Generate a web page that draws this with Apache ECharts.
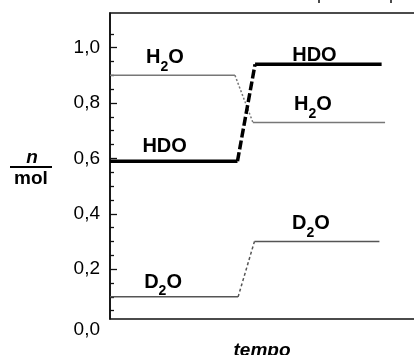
<!DOCTYPE html>
<html>
<head>
<meta charset="UTF-8">
<title></title>
<style>
	html, body { margin: 0; padding: 0; background: #fff; }
	#chart { width: 414px; height: 355px; }
</style>
<script src="https://cdn.jsdelivr.net/npm/echarts@6/dist/echarts.min.js"></script>
</head>
<body>
<div id="chart"></div>
<script>
var FONT = '"Liberation Sans", Arial, sans-serif';

// tempo (arbitrary units) and n/mol for each species: flat, change, flat
var tH2O = [0, 39.8, 45.5, 87.6];
var nH2O = [0.90, 0.90, 0.73, 0.73];
var tHDO = [0, 40.6, 46.2, 86.5];
var nHDO = [0.59, 0.59, 0.94, 0.94];
var tD2O = [0, 40.8, 46.0, 85.8];
var nD2O = [0.10, 0.10, 0.30, 0.30];

// axis ticks
var yMajor = [0.2, 0.4, 0.6, 0.8, 1.0];
var yMinor = [0.05, 0.1, 0.15, 0.25, 0.3, 0.35, 0.45, 0.5, 0.55, 0.65, 0.7, 0.75, 0.85, 0.9, 0.95, 1.05];
var topTicks = [66.6, 89.5];

// species labels (rich text) and where they sit (tempo, n)
var lblText = ['{b|H}{s|2}{b|O}', '{b|HDO}', '{b|HDO}', '{b|H}{s|2}{b|O}', '{b|D}{s|2}{b|O}', '{b|D}{s|2}{b|O}'];
var lblT = [17.5, 65.1, 17.4, 64.6, 64.0, 16.9];
var lblN = [0.963, 0.973, 0.642, 0.793, 0.364, 0.153];

var myChart = echarts.init(document.getElementById('chart'));

function fmt(v) {
	return v.toFixed(1).replace('.', ',');
}

function pts(t, n, a, b) {
	var r = [];
	for (var i = a; i <= b; i++) r.push([t[i], n[i]]);
	return r;
}

// one species -> three line pieces (solid, dashed change, solid)
function pieces(t, n, color, width, dash) {
	var base = {
		type: 'line', showSymbol: false, silent: true, animation: false,
		lineStyle: { color: color, width: width, type: 'solid', cap: 'butt' }
	};
	return [
		Object.assign({}, base, { data: pts(t, n, 0, 1) }),
		Object.assign({}, base, { data: pts(t, n, 1, 2),
			lineStyle: { color: color, width: width, type: dash, cap: 'butt' } }),
		Object.assign({}, base, { data: pts(t, n, 2, 3) })
	];
}

var series = [].concat(
	pieces(tH2O, nH2O, '#777', 1.5, [2, 2]),
	pieces(tD2O, nD2O, '#555', 1.5, [3, 2.5]),
	pieces(tHDO, nHDO, '#000', 3.5, [9, 3])
);

var option = {
	animation: false,
	grid: {
		left: 110, width: 314, top: 13, bottom: 36,
		outerBoundsMode: 'none', containLabel: false,
		show: true, borderColor: '#111', borderWidth: 1.6
	},
	xAxis: [{
		type: 'value', min: 0, max: 100,
		axisLine: { show: false }, axisTick: { show: false },
		axisLabel: { show: false }, splitLine: { show: false },
		name: 'tempo', nameLocation: 'middle', nameGap: 22,
		nameTextStyle: {
			fontFamily: FONT, fontSize: 19, fontWeight: 'bold', fontStyle: 'italic',
			color: '#000', padding: [0, 10, 0, 0]
		}
	}, {
		// stray tick stubs at the very top edge of the original image
		type: 'value', min: 0, max: 100, position: 'top', offset: 10,
		axisLine: { show: false },
		axisTick: { show: true, length: 4, customValues: topTicks,
			lineStyle: { color: '#111', width: 1.5 } },
		axisLabel: { show: false }, splitLine: { show: false }
	}],
	yAxis: [{
		type: 'value', min: 0.02, max: 1.125,
		axisLine: { show: true, lineStyle: { color: '#111', width: 1.6 } },
		axisTick: { show: true, inside: true, length: 7, customValues: yMajor,
			lineStyle: { color: '#111', width: 1.3 } },
		axisLabel: { customValues: yMajor, formatter: fmt, margin: 10,
			fontFamily: FONT, fontSize: 19, color: '#000' },
		splitLine: { show: false }
	}, {
		type: 'value', min: 0.02, max: 1.125, position: 'left',
		axisLine: { show: false },
		axisTick: { show: true, inside: true, length: 4, customValues: yMinor,
			lineStyle: { color: '#111', width: 1.3 } },
		axisLabel: { show: false },
		splitLine: { show: false }
	}],
	series: series
};

myChart.setOption(option);

// labels placed from data coordinates
var rich = {
	b: { fontFamily: FONT, fontSize: 20, fontWeight: 'bold', fill: '#000', lineHeight: 20, verticalAlign: 'top' },
	s: { fontFamily: FONT, fontSize: 14, fontWeight: 'bold', fill: '#000', lineHeight: 14, verticalAlign: 'top', padding: [12, 0, 0, 0] }
};
var graphic = [];
lblText.forEach(function (txt, i) {
	var p = myChart.convertToPixel({ gridIndex: 0 }, [lblT[i], lblN[i]]);
	graphic.push({
		type: 'text', x: p[0], y: p[1] - 10, silent: true,
		style: { text: txt, rich: rich, align: 'center', verticalAlign: 'top' }
	});
});

// "0,0" sits just below the bottom line in the original
var y0 = myChart.convertToPixel({ yAxisIndex: 0 }, 0);
graphic.push({
	type: 'text', x: 100, y: y0 + 5, silent: true,
	style: { text: fmt(0), font: '19px ' + FONT, fill: '#000', align: 'right', verticalAlign: 'middle' }
});

// axis quantity written as a fraction n / mol
graphic.push(
	{ type: 'text', x: 32, y: 158, silent: true,
		style: { text: 'n', font: 'italic bold 19px ' + FONT, fill: '#000', align: 'center', verticalAlign: 'middle' } },
	{ type: 'line', silent: true, shape: { x1: 10, y1: 167, x2: 52, y2: 167 },
		style: { stroke: '#000', lineWidth: 2 } },
	{ type: 'text', x: 31, y: 179, silent: true,
		style: { text: 'mol', font: 'bold 19px ' + FONT, fill: '#000', align: 'center', verticalAlign: 'middle' } }
);

myChart.setOption({ graphic: graphic });
</script>
</body>
</html>
